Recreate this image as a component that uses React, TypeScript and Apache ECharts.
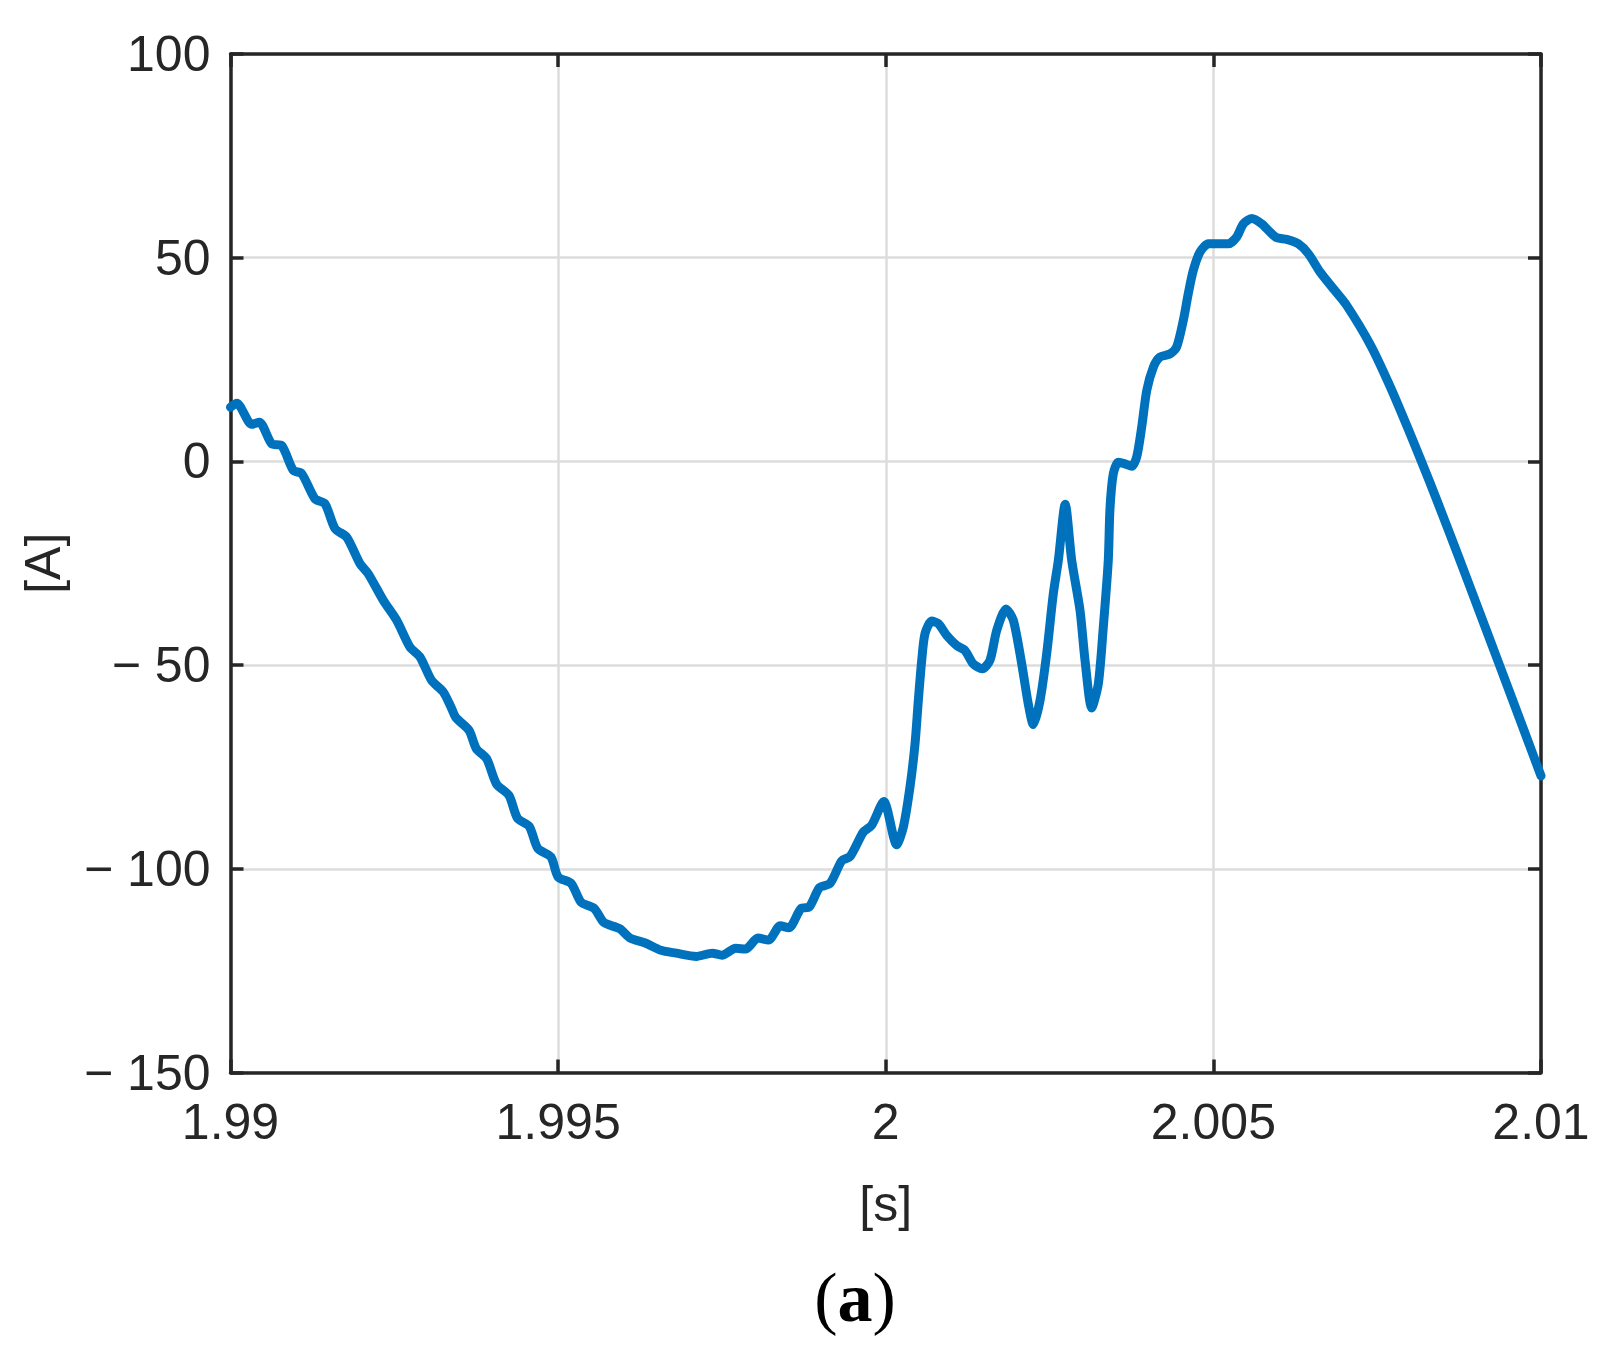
import React, { useEffect, useRef } from "react";
import * as echarts from "echarts";

const times: number[] = [
  1.99, 1.990095, 1.990324, 1.99044, 1.990629, 1.990781, 1.990958, 1.991087, 1.99129, 1.991442,
  1.991595, 1.991773, 1.991976, 1.992103, 1.992332, 1.992536, 1.992739, 1.992892, 1.99307, 1.993248,
  1.993376, 1.99344, 1.99364, 1.99375, 1.99391, 1.99406, 1.99425, 1.99438, 1.99456, 1.99469,
  1.99489, 1.995, 1.9952, 1.99535, 1.99555, 1.9957, 1.99594, 1.9961, 1.99633, 1.99657,
  1.9968, 1.99711, 1.99735, 1.9975, 1.99771, 1.99786, 1.99805, 1.99821, 1.99839, 1.99852,
  1.99871, 1.99883, 1.99899, 1.99915, 1.99933, 1.999455, 1.999657, 1.999785, 1.99997, 2.000167,
  2.000268, 2.00037, 2.000447, 2.000497, 2.000549, 2.000599, 2.000701, 2.000802, 2.00093, 2.001083,
  2.001209, 2.001336, 2.001473, 2.001591, 2.001693, 2.001835, 2.001947, 2.002075, 2.002175, 2.002252,
  2.002354, 2.002456, 2.002557, 2.002634, 2.002739, 2.002838, 2.002965, 2.003041, 2.003143, 2.003244,
  2.00332, 2.003396, 2.003422, 2.003473, 2.003549, 2.003651, 2.003754, 2.00383, 2.003906, 2.003983,
  2.004083, 2.004185, 2.004338, 2.00444, 2.004541, 2.004617, 2.004694, 2.004796, 2.004923, 2.005051,
  2.005228, 2.005356, 2.005457, 2.005585, 2.005738, 2.005864, 2.005966, 2.006119, 2.006296, 2.006449,
  2.006627, 2.00683, 2.007034, 2.0074, 2.0077, 2.008, 2.0083, 2.0086, 2.0089, 2.0092,
  2.0095, 2.0098, 2.01,
];

const current: number[] = [
  13.3, 14.3, 9.1, 9.6, 4.3, 3.9, -2.2, -3.0, -9.2, -10.4,
  -16.5, -18.6, -25.1, -27.6, -34.1, -39.0, -45.6, -48.0, -53.8, -56.6,
  -60.7, -62.9, -66, -70.5, -73, -79.2, -82, -87.6, -89.6, -95,
  -97.1, -102, -103.6, -108.2, -109.7, -113.2, -114.7, -117, -118.2, -120,
  -120.7, -121.5, -120.7, -121.2, -119.5, -119.7, -117, -117.5, -114, -114.5,
  -109.7, -109.4, -104.6, -103.6, -98, -97, -91.0, -89.3, -83.5, -94.1,
  -89.8, -79.9, -69.3, -58.7, -48.8, -42.3, -39.2, -39.8, -42.7, -45.2,
  -46.4, -49.7, -50.9, -48.8, -41.5, -36.2, -39.0, -49.7, -59.5, -64.6,
  -58.7, -47.2, -32.5, -24.3, -10.5, -24.3, -36.6, -48.8, -60.5, -54.6,
  -40.7, -24.3, -11.6, -3.0, -0.2, -0.6, -1.2, 1.1, 8.4, 17.4,
  23.1, 25.6, 26.4, 28.1, 34.6, 41.2, 46.9, 51.4, 53.4, 53.4,
  53.4, 55.1, 58.3, 59.6, 58.3, 56.3, 54.9, 54.5, 53.4, 51.0,
  46.5, 42.4, 38.3, 28.5, 18.3, 6.9, -5.0, -17.4, -30.1, -42.9,
  -55.7, -68.6, -77.2,
];

const xTickValues: number[] = [1.99, 1.995, 2, 2.005, 2.01];
const xTickLabels: string[] = ["1.99", "1.995", "2", "2.005", "2.01"];
const yTickValues: number[] = [-150, -100, -50, 0, 50, 100];
const yTickLabels: string[] = ["− 150", "− 100", "− 50", "0", "50", "100"];

const xLabel = "[s]";
const yLabel = "[A]";
const caption = "a";

function nearestLabel(v: number, vals: number[], labels: string[]): string {
  let best = 0;
  let bd = Infinity;
  vals.forEach((t, i) => {
    const d = Math.abs(t - v);
    if (d < bd) {
      bd = d;
      best = i;
    }
  });
  return bd < 1e-3 ? labels[best] : "";
}

export default function App() {
  const ref = useRef<HTMLDivElement>(null);
  useEffect(() => {
    document.body.style.margin = "0";
    if (!ref.current) return;
    const chart = echarts.init(ref.current, null, { renderer: "svg" });
    const axisColor = "#262626";
    const font = "'Liberation Sans', Arial, Helvetica, sans-serif";
    const grid = { left: 230.5, right: 65, top: 54, bottom: 280.5, containLabel: false };
    const common = {
      axisLine: { show: true, onZero: false, lineStyle: { color: axisColor, width: 3.5 } },
      axisTick: { show: true, inside: true, length: 13, lineStyle: { color: axisColor, width: 3.5 } },
    };
    const option: any = {
      animation: false,
      backgroundColor: "#ffffff",
      grid,
      xAxis: [
        {
          type: "value",
          min: 1.99,
          max: 2.01,
          interval: 0.005,
          position: "bottom",
          ...common,
          splitLine: { show: true, lineStyle: { color: "#dcdcdc", width: 2.5 } },
          axisLabel: {
            show: true,
            margin: 24,
            fontSize: 50,
            fontFamily: font,
            color: axisColor,
            formatter: (v: number) => nearestLabel(v, xTickValues, xTickLabels),
          },
          name: xLabel,
          nameLocation: "middle",
          nameGap: 106,
          nameTextStyle: { fontSize: 50, fontFamily: font, color: axisColor },
        },
        {
          type: "value",
          min: 1.99,
          max: 2.01,
          interval: 0.005,
          position: "top",
          ...common,
          splitLine: { show: false },
          axisLabel: { show: false },
        },
      ],
      yAxis: [
        {
          type: "value",
          min: -150,
          max: 100,
          interval: 50,
          position: "left",
          ...common,
          splitLine: { show: true, lineStyle: { color: "#dcdcdc", width: 2.5 } },
          axisLabel: {
            show: true,
            margin: 20,
            fontSize: 50,
            fontFamily: font,
            color: axisColor,
            formatter: (v: number) => nearestLabel(v, yTickValues, yTickLabels),
          },
          name: yLabel,
          nameLocation: "middle",
          nameGap: 163,
          nameTextStyle: { fontSize: 50, fontFamily: font, color: axisColor },
        },
        {
          type: "value",
          min: -150,
          max: 100,
          interval: 50,
          position: "right",
          ...common,
          splitLine: { show: false },
          axisLabel: { show: false },
        },
      ],
      series: [
        {
          type: "line",
          xAxisIndex: 0,
          yAxisIndex: 0,
          data: times.map((t, i) => [t, current[i]]),
          showSymbol: false,
          symbol: "none",
          smooth: 0.25,
          lineStyle: { color: "#0072BD", width: 9, cap: "round", join: "round" },
          z: 3,
        },
      ],
      graphic: [
        {
          type: "text",
          x: 855,
          y: 1297,
          style: {
            text: "{p|(}{b|" + caption + "}{p|)}",
            align: "center",
            verticalAlign: "middle",
            rich: {
              p: { fontSize: 70, fontFamily: "'Liberation Serif', 'Times New Roman', serif", fill: "#000" },
              b: { fontSize: 70, fontWeight: "bold", fontFamily: "'Liberation Serif', 'Times New Roman', serif", fill: "#000" },
            },
          },
        },
      ],
    };
    chart.setOption(option);
    return () => chart.dispose();
  }, []);
  return <div ref={ref} style={{ width: 1606, height: 1353 }} />;
}
